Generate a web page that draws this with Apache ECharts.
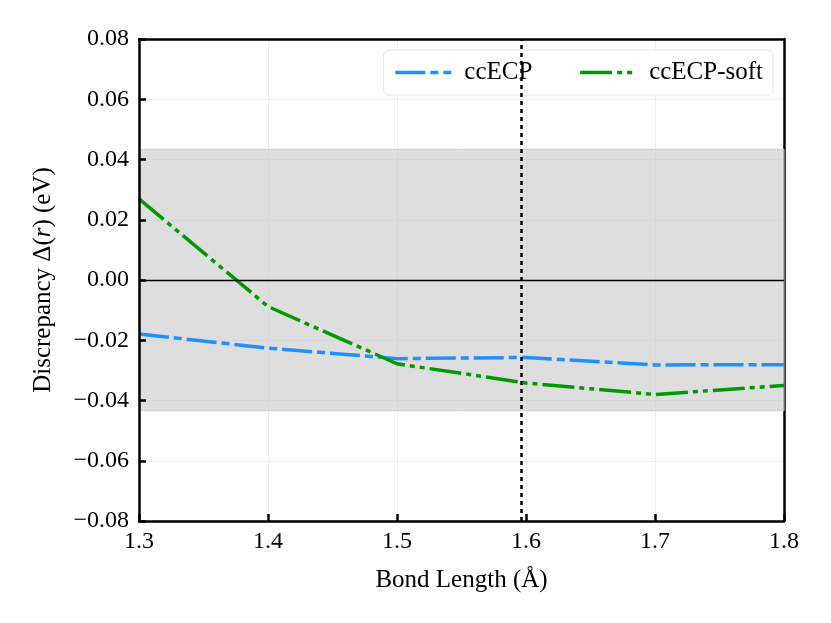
<!DOCTYPE html>
<html>
<head>
	<meta http-equiv="Content-Type" content="text/html; charset=UTF-8">
	<title>Discrepancy vs bond length</title>
	<script src="https://cdn.jsdelivr.net/npm/echarts@6/dist/echarts.min.js"></script>
	<style>
		html, body { margin: 0; padding: 0; background: #fff; }
	</style>
</head>

<body>

	<div id="main" style="width: 831px;height:623px;"></div>

	<script>

		// bond length (Angstrom)
		var bondLengths = [1.3, 1.4, 1.5, 1.6, 1.7, 1.8];

		// discrepancy (eV)
		var ccECP     = [-0.0179, -0.0226, -0.0261, -0.0257, -0.0282, -0.0281];
		var ccECPsoft = [ 0.0269, -0.0088, -0.0278, -0.0342, -0.0380, -0.0350];

		// chemical accuracy band and equilibrium marker
		var chemAccuracy = 0.0434;
		var eqBondLength = 1.596;

		var xTicks = { min: 1.3, max: 1.8, step: 0.1 };
		var yTicks = { min: -0.08, max: 0.08, step: 0.02 };

		var fontFam = 'Liberation Serif';

		function pairs(ys) {
			var out = [];
			for (var i = 0; i < bondLengths.length; i++) {
				out.push([bondLengths[i], ys[i]]);
			}
			return out;
		}

		function fmtY(v) {
			if (Math.abs(v) < 1e-9) return '0.00';
			var s = v.toFixed(2);
			return s.replace('-', '\u2212');
		}

		var frameLine = { show: true, onZero: false, lineStyle: { color: '#000', width: 2.5 } };

		var chartDom = document.getElementById('main');
		var myChart = echarts.init(chartDom);

		var option = {
			animation: false,
			backgroundColor: '#fff',
			textStyle: { fontFamily: fontFam, color: '#000' },
			grid: {
				left: 139,
				right: 47,
				top: 39,
				bottom: 102,
				show: false
			},
			legend: {
				data: ['ccECP', 'ccECP-soft'],
				right: 58,
				top: 50,
				padding: [10, 10, 10, 10],
				itemGap: 46,
				itemWidth: 56,
				itemHeight: 14,
				itemStyle: { opacity: 0 },
				lineStyle: { width: 3.5 },
				backgroundColor: '#fff',
				borderColor: '#e4e4e4',
				borderWidth: 1,
				borderRadius: 5,
				textStyle: { fontFamily: fontFam, fontSize: 25, color: '#000', padding: [0, 0, 0, 8] }
			},
			xAxis: [
				{
					type: 'value',
					position: 'bottom',
					z: 10,
					min: xTicks.min,
					max: xTicks.max,
					interval: xTicks.step,
					name: 'Bond Length (\u00c5)',
					nameLocation: 'middle',
					nameGap: 47,
					nameTextStyle: { fontFamily: fontFam, fontSize: 25, color: '#000' },
					axisLine: frameLine,
					axisTick: { show: true, inside: true, length: 7, lineStyle: { color: '#000', width: 2.5 } },
					axisLabel: {
						fontFamily: fontFam, fontSize: 24, color: '#000', margin: 9,
						formatter: function (v) { return v.toFixed(1); }
					},
					splitLine: { show: false }
				},
				{
					type: 'value',
					position: 'top',
					z: 0,
					min: xTicks.min,
					max: xTicks.max,
					interval: xTicks.step,
					axisLine: frameLine,
					axisTick: { show: false },
					axisLabel: { show: false },
					splitLine: { show: true, lineStyle: { color: '#eeeeee', width: 1 } }
				}
			],
			yAxis: [
				{
					type: 'value',
					position: 'left',
					z: 10,
					min: yTicks.min,
					max: yTicks.max,
					interval: yTicks.step,
					name: '{n|Discrepancy \u0394(}{i|r}{n|) (eV)}',
					nameLocation: 'middle',
					nameGap: 83,
					nameTextStyle: {
						fontFamily: fontFam, fontSize: 25, color: '#000',
						rich: {
							n: { fontFamily: fontFam, fontSize: 25, color: '#000' },
							i: { fontFamily: fontFam, fontSize: 25, color: '#000', fontStyle: 'italic' }
						}
					},
					axisLine: frameLine,
					axisTick: { show: true, inside: true, length: 7, lineStyle: { color: '#000', width: 2.5 } },
					axisLabel: {
						fontFamily: fontFam, fontSize: 24, color: '#000', margin: 10,
						formatter: fmtY
					},
					splitLine: { show: false }
				},
				{
					type: 'value',
					position: 'right',
					z: 0,
					min: yTicks.min,
					max: yTicks.max,
					interval: yTicks.step,
					axisLine: frameLine,
					axisTick: { show: false },
					axisLabel: { show: false },
					splitLine: { show: true, lineStyle: { color: '#eeeeee', width: 1 } }
				}
			],
			series: [
				{
					name: 'band',
					type: 'line',
					data: [],
					z: 1,
					silent: true,
					markArea: {
						silent: true,
						itemStyle: { color: 'rgba(200,200,200,0.6)', borderColor: '#d0d0d0', borderWidth: 1 },
						data: [[{ yAxis: -chemAccuracy }, { yAxis: chemAccuracy }]]
					},
					markLine: {
						silent: true,
						precision: 4,
						symbol: ['none', 'none'],
						label: { show: false },
						data: [
							{ yAxis: 0, lineStyle: { color: '#000', width: 1.3, type: 'solid' } },
							{ xAxis: eqBondLength, lineStyle: { color: '#000', width: 2.5, type: [4, 4] } }
						]
					}
				},
				{
					name: 'ccECP',
					type: 'line',
					data: pairs(ccECP),
					z: 3,
					showSymbol: false,
					symbol: 'none',
					color: '#1e90ff',
					lineStyle: { color: '#1e90ff', width: 3.5, type: [30, 5, 8, 5] }
				},
				{
					name: 'ccECP-soft',
					type: 'line',
					data: pairs(ccECPsoft),
					z: 3,
					showSymbol: false,
					symbol: 'none',
					color: '#009900',
					lineStyle: { color: '#009900', width: 3.5, type: [32, 5, 5, 5, 5, 5] }
				}
			]
		};

		option && myChart.setOption(option);

	</script>

</body>
</html>
